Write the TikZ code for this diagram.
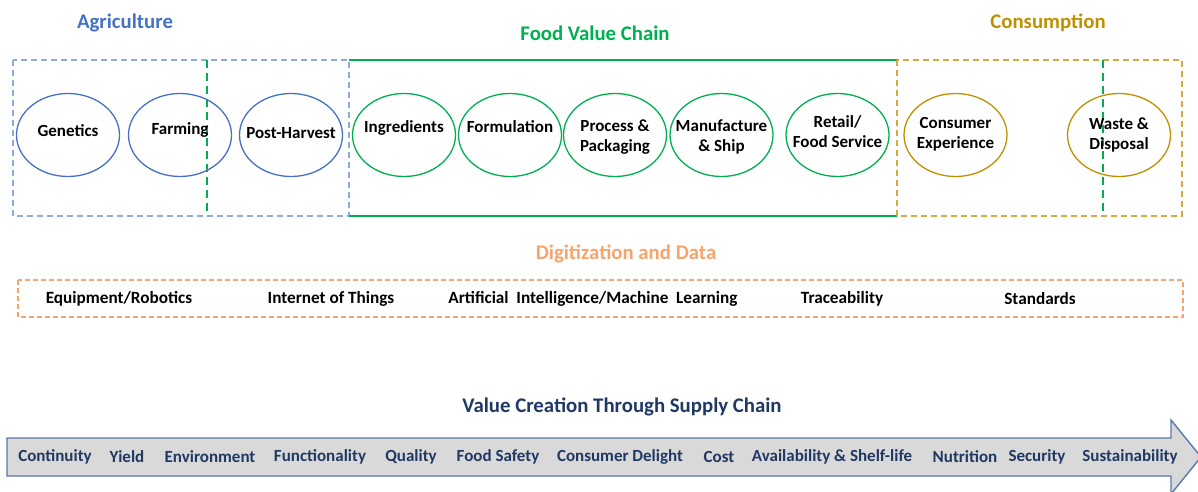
\documentclass[tikz,border=0pt]{standalone}
\usepackage{fontspec}
\setmainfont{Carlito}
\usepackage{tikz}
\usetikzlibrary{positioning,shapes.geometric}

\definecolor{agriblue}{HTML}{4472C4}
\definecolor{agridash}{HTML}{8FAADC}
\definecolor{chaingreen}{HTML}{00B050}
\definecolor{consgold}{HTML}{BF9000}
\definecolor{consdash}{HTML}{D2AA3E}
\definecolor{digiorange}{HTML}{F5A46E}
\definecolor{valuenavy}{HTML}{203864}
\definecolor{arrowgray}{HTML}{D9D9D9}
\definecolor{arrowedge}{HTML}{5A78AE}

\tikzset{
    stage/.style={
           ellipse,
           draw, line width=1.3pt,
           minimum width=103pt,
           minimum height=83pt,
           inner sep=0pt,
           outer sep=0pt
           },
    stagetext/.style={
           font=\bfseries\fontsize{17}{20}\selectfont,
           align=center,
           inner sep=0pt
           },
    heading/.style={
           font=\bfseries\fontsize{20.8}{25}\selectfont
           },
    region/.style={
           dash pattern=on 6pt off 4pt,
           line width=1.8pt
           },
    tech/.style={
           font=\bfseries\fontsize{17.2}{20}\selectfont
           },
    benefit/.style={
           font=\bfseries\fontsize{17}{20}\selectfont,
           text=valuenavy
           },
}

\begin{document}
\begin{tikzpicture}[x=1pt,y=-1pt]
\useasboundingbox (0,0) rectangle (1198,491);

% frames of the three stages
\draw[region, agridash] (13,60) rectangle (349,216);
\draw[chaingreen, line width=2.6pt] (349,60) -- (897,60) (349,216) -- (897,216);
\draw[region, consdash] (897,60) rectangle (1182,216);
\draw[chaingreen, line width=2pt, dash pattern=on 8pt off 5pt] (207,60) -- (207,216);
\draw[chaingreen, line width=2pt, dash pattern=on 8pt off 5pt] (1103,60) -- (1103,216);

% stage headings
\node[heading, text=agriblue] (agriculture) at (125,23) {Agriculture};
\node[heading, text=chaingreen] (foodchain) at (595,33) {Food Value Chain};
\node[heading, text=consgold] (consumption) at (1048,23) {Consumption};

% agriculture
\node[stage, draw=agriblue,
      label={[stagetext, yshift=4pt]center:Genetics}] (genetics) at (68,135) {};
\node[stage, draw=agriblue, right=9pt of genetics,
      label={[stagetext, yshift=5pt]center:Farming}] (farming) {};
\node[stage, draw=agriblue, right=8pt of farming,
      label={[stagetext, yshift=2pt]center:Post-Harvest}] (postharvest) {};

% food value chain
\node[stage, draw=chaingreen, right=10pt of postharvest,
      label={[stagetext, yshift=7pt]center:Ingredients}] (ingredients) {};
\node[stage, draw=chaingreen, right=3pt of ingredients,
      label={[stagetext, yshift=8pt]center:Formulation}] (formulation) {};
\node[stage, draw=chaingreen, right=2pt of formulation,
      label={[stagetext, yshift=-2pt]center:Process \&\\Packaging}] (process) {};
\node[stage, draw=chaingreen, right=3.5pt of process,
      label={[stagetext, yshift=-2pt]center:Manufacture\\\& Ship}] (manufacture) {};
\node[stage, draw=chaingreen, right=13pt of manufacture,
      label={[stagetext, yshift=3.5pt]center:Retail/\\Food Service}] (retail) {};

% consumption
\node[stage, draw=consgold, right=15pt of retail,
      label={[stagetext, yshift=1pt]center:Consumer\\Experience}] (consumer) {};
\node[stage, draw=consgold, right=60.5pt of consumer,
      label={[stagetext]center:Waste \&\\Disposal}] (waste) {};

% digitization row
\node[heading, text=digiorange] (digitization) at (626,254) {Digitization and Data};
\draw[digiorange, line width=1.6pt, dash pattern=on 5pt off 3pt] (18,280) rectangle (1183,317);
\node[tech] (robotics) at (119,299) {Equipment/Robotics};
\node[tech] (iot) at (331,299) {Internet of Things};
\node[tech] (aiml) at (593,299) {Artificial~ Intelligence/Machine~ Learning};
\node[tech] (traceability) at (842,299) {Traceability};
\node[tech] (standards) at (1040,299) {Standards};

% value creation arrow
\node[heading, text=valuenavy] (valuecreation) at (622,407) {Value Creation Through Supply Chain};
\draw[arrowedge, fill=arrowgray, line width=1.4pt]
    (7,438) -- (1171,438) -- (1171,420) -- (1201,457) -- (1171,494) -- (1171,476) -- (7,476) -- cycle;
\node[benefit] (continuity) at (55,457) {Continuity};
\node[benefit] (yield) at (127,457) {Yield};
\node[benefit] (environment) at (210,457) {Environment};
\node[benefit] (functionality) at (320,457) {Functionality};
\node[benefit] (quality) at (411,457) {Quality};
\node[benefit] (foodsafety) at (498,457) {Food Safety};
\node[benefit] (delight) at (620,457) {Consumer Delight};
\node[benefit] (cost) at (719,457) {Cost};
\node[benefit] (shelflife) at (832,457) {Availability \& Shelf-life};
\node[benefit] (nutrition) at (965,457) {Nutrition};
\node[benefit] (security) at (1037,457) {Security};
\node[benefit] (sustainability) at (1130,457) {Sustainability};

\end{tikzpicture}
\end{document}
